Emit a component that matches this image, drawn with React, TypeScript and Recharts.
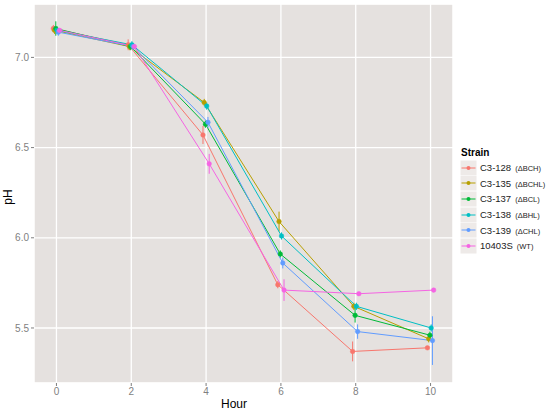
import React from 'react';
import { LineChart, Line, XAxis, YAxis, CartesianGrid, ErrorBar } from 'recharts';

const hours = [0, 2, 4, 6, 8, 10];
const strainIds = ['C3-128', 'C3-135', 'C3-137', 'C3-138', 'C3-139', '10403S'];
const strainTags = ['(ΔBCH)', '(ΔBCHL)', '(ΔBCL)', '(ΔBHL)', '(ΔCHL)', '(WT)'];
const colors = ['#F8766D', '#B79F00', '#00BA38', '#00BFC4', '#619CFF', '#F564E3'];

const ph128 = [7.16, 7.07, 6.57, 5.74, 5.37, 5.39];
const ph135 = [7.15, 7.06, 6.75, 6.09, 5.62, 5.44];
const ph137 = [7.16, 7.06, 6.63, 5.91, 5.57, 5.46];
const ph138 = [7.15, 7.07, 6.73, 6.01, 5.62, 5.50];
const ph139 = [7.14, 7.06, 6.64, 5.86, 5.48, 5.43];
const ph10403 = [7.15, 7.06, 6.41, 5.71, 5.69, 5.71];

const sd128 = [0.02, 0.03, 0.05, 0.02, 0.055, 0.01];
const sd135 = [0.02, 0.02, 0.02, 0.055, 0.02, 0.02];
const sd137 = [0.04, 0.02, 0.02, 0.02, 0.04, 0.02];
const sd138 = [0.02, 0.02, 0.02, 0.02, 0.02, 0.02];
const sd139 = [0.02, 0.02, 0.03, 0.03, 0.04, 0.135];
const sd10403 = [0.01, 0.01, 0.055, 0.06, 0.01, 0.01];

const yTicks = [5.5, 6.0, 6.5, 7.0];
const yMinor = [5.25, 5.75, 6.25, 6.75, 7.25];
const xMinor = [1, 3, 5, 7, 9];

const allValues = [ph128, ph135, ph137, ph138, ph139, ph10403];
const allSd = [sd128, sd135, sd137, sd138, sd139, sd10403];
const DODGE = 0.2;
const X_DOMAIN: [number, number] = [-0.6, 10.6];
const Y_DOMAIN: [number, number] = [5.195, 7.296];

const seriesData = allValues.map((vals, i) =>
  hours.map((h, j) => ({
    x: h + (i - 2.5) * (DODGE / 6),
    y: vals[j],
    err: allSd[i][j],
  }))
);

const BG = '#E5E1DF';
const TICK = '#7F7F7F';

function LegendKey({ color }: { color: string }) {
  return (
    <svg width={17} height={16} style={{ display: 'block' }}>
      <rect x={0} y={0} width={17} height={16} fill="#EEEAE8" stroke="#fff" strokeWidth={1} />
      <line x1={1.5} x2={15.5} y1={8} y2={8} stroke={color} strokeWidth={1} />
      <circle cx={8.5} cy={8} r={2} fill={color} />
    </svg>
  );
}

export default function App() {
  return (
    <div style={{ position: 'absolute', left: 0, top: 0, width: 550, height: 418, background: '#fff', fontFamily: 'Liberation Sans, Arial, sans-serif' }}>
      <LineChart width={550} height={418} margin={{ top: 4, right: 97, bottom: 0, left: 0 }}>
        <CartesianGrid xAxisId="minor" yAxisId="minor" fill={BG} stroke="#fff" strokeWidth={0.6} />
        <CartesianGrid stroke="#fff" strokeWidth={1.3} fill="none" />
        <XAxis
          type="number"
          dataKey="x"
          domain={X_DOMAIN}
          ticks={hours}
          allowDataOverflow
          height={35}
          axisLine={false}
          tickLine={{ stroke: TICK }}
          tickSize={3}
          tickMargin={2}
          tick={{ fill: TICK, fontSize: 10 }}
        />
        <XAxis
          xAxisId="minor"
          type="number"
          dataKey="x"
          domain={X_DOMAIN}
          ticks={xMinor}
          allowDataOverflow
          height={0}
          axisLine={false}
          tickLine={false}
          tick={false}
        />
        <YAxis
          type="number"
          domain={Y_DOMAIN}
          ticks={yTicks}
          allowDataOverflow
          width={34}
          axisLine={false}
          tickLine={{ stroke: TICK }}
          tickSize={3}
          tickMargin={2}
          tick={{ fill: TICK, fontSize: 10 }}
          tickFormatter={(v: number) => v.toFixed(1)}
        />
        <YAxis
          yAxisId="minor"
          type="number"
          domain={Y_DOMAIN}
          ticks={yMinor}
          allowDataOverflow
          width={0}
          axisLine={false}
          tickLine={false}
          tick={false}
        />
        {seriesData.map((d, i) => (
          <Line
            key={strainIds[i]}
            data={d}
            dataKey="y"
            type="linear"
            stroke={colors[i]}
            strokeWidth={1}
            dot={{ r: 2.3, fill: colors[i], stroke: colors[i], strokeWidth: 0.5 }}
            activeDot={false}
            isAnimationActive={false}
          >
            <ErrorBar dataKey="err" width={0} stroke={colors[i]} strokeWidth={1} direction="y" />
          </Line>
        ))}
      </LineChart>
      <div style={{ position: 'absolute', left: 212, top: 397, width: 44, textAlign: 'center', fontSize: 12, color: '#000' }}>Hour</div>
      <div style={{ position: 'absolute', left: -4, top: 190, width: 24, textAlign: 'center', fontSize: 12, color: '#000', transform: 'rotate(-90deg)' }}>pH</div>
      <div style={{ position: 'absolute', left: 460, top: 145, fontSize: 10 }}>
        <div style={{ fontWeight: 'bold', height: 15, lineHeight: '15px', marginLeft: 1 }}>Strain</div>
        {strainIds.map((s, i) => (
          <div key={s} style={{ display: 'flex', alignItems: 'center', height: 15.6 }}>
            <LegendKey color={colors[i]} />
            <span style={{ marginLeft: 3, fontSize: 9.5, color: '#222', whiteSpace: 'pre' }}>
              {s}
              <span style={{ fontSize: 7.5, marginLeft: 4 }}>{strainTags[i]}</span>
            </span>
          </div>
        ))}
      </div>
    </div>
  );
}
